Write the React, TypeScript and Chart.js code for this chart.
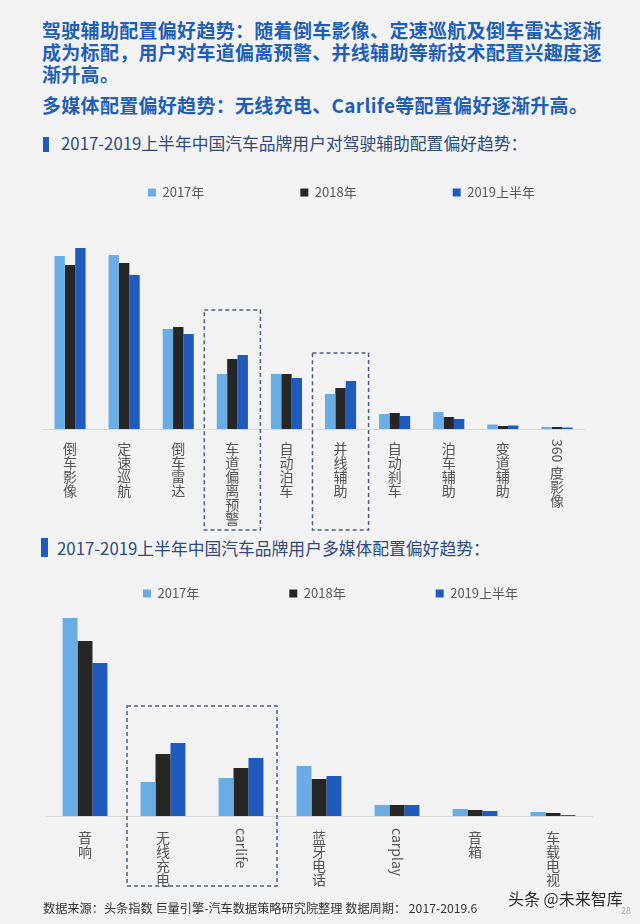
import React, { useEffect, useRef } from "react";
import { Chart, registerables } from "chart.js";

Chart.register(...registerables);

const FONT = '"Noto Sans CJK SC", "Noto Sans", sans-serif';

const seriesNames = ["2017年", "2018年", "2019上半年"];
const seriesColors = ["#6aade4", "#262626", "#1f5bbd"];

const assistCategories = ["倒车影像", "定速巡航", "倒车雷达", "车道偏离预警", "自动泊车", "并线辅助", "自动刹车", "泊车辅助", "变道辅助", "360度影像"];
const assist2017 = [173, 174, 100, 55, 55, 35, 15, 17, 4.5, 2];
const assist2018 = [164, 166, 102, 70, 55, 41, 16, 12, 3, 2];
const assist2019 = [181, 154, 95, 74, 51, 48, 13, 10, 3.5, 1.5];
const assistMax = 220;
const assistHighlights = [
  { from: 3, to: 3, top: 119 },
  { from: 5, to: 5, top: 76 },
];

const mediaCategories = ["音响", "无线充电", "carlife", "蓝牙电话", "carplay", "音箱", "车载电视"];
const media2017 = [198, 34, 38, 50, 11, 7, 4];
const media2018 = [175, 62, 48, 37, 11, 6, 3];
const media2019 = [153, 73, 58, 40, 11, 5, 1];
const mediaMax = 206;
const mediaHighlights = [{ from: 1, to: 2, top: 110 }];

const headerLines = [
  "驾驶辅助配置偏好趋势：随着倒车影像、定速巡航及倒车雷达逐渐",
  "成为标配，用户对车道偏离预警、并线辅助等新技术配置兴趣度逐",
  "渐升高。",
];
const headerLine2 = "多媒体配置偏好趋势：无线充电、Carlife等配置偏好逐渐升高。";
const title1 = "2017-2019上半年中国汽车品牌用户对驾驶辅助配置偏好趋势：";
const title2 = "2017-2019上半年中国汽车品牌用户多媒体配置偏好趋势：";
const footer = "数据来源：头条指数 巨量引擎-汽车数据策略研究院整理 数据周期： 2017-2019.6";

type Box = { from: number; to: number; top: number };
type PluginCfg = { offset: number; step: number; boxes: Box[]; boxBottom: number; inset: number };

function makeLabelPlugin(cfg: PluginCfg) {
  return {
    id: "verticalLabels",
    afterDraw(chart: any) {
      const { ctx, chartArea } = chart;
      const xs = chart.scales.x;
      const ys = chart.scales.y;
      const labels = chart.data.labels as string[];
      ctx.save();
      ctx.font = `14px ${FONT}`;
      ctx.fillStyle = "#555555";
      labels.forEach((lab, i) => {
        const cx = xs.getPixelForValue(i);
        let cy = chartArea.bottom + cfg.offset;
        const runs = lab.match(/[\x00-\x7f]+|[^\x00-\x7f]/g) || [];
        runs.forEach((run, k) => {
          if (/^[\x00-\x7f]+$/.test(run)) {
            const start = k === 0 ? cy - 3 : cy;
            ctx.save();
            ctx.translate(cx, start);
            ctx.rotate(Math.PI / 2);
            ctx.textAlign = "left";
            ctx.textBaseline = "middle";
            ctx.fillText(run, 0, 0);
            ctx.restore();
            cy = start + ctx.measureText(run).width + 3;
          } else {
            ctx.textAlign = "center";
            ctx.textBaseline = "top";
            ctx.fillText(run, cx, cy);
            cy += cfg.step;
          }
        });
      });
      const half = (xs.getPixelForValue(1) - xs.getPixelForValue(0)) / 2;
      ctx.setLineDash([4, 3]);
      ctx.lineWidth = 1.5;
      ctx.strokeStyle = "#4a5f85";
      cfg.boxes.forEach((b) => {
        const l = xs.getPixelForValue(b.from) - half + cfg.inset;
        const r = xs.getPixelForValue(b.to) + half - cfg.inset;
        const t = ys.getPixelForValue(b.top);
        const btm = chartArea.bottom + cfg.boxBottom;
        ctx.strokeRect(l, t, r - l, btm - t);
      });
      ctx.restore();
    },
  };
}

type ChartProps = {
  top: number;
  height: number;
  labels: string[];
  series: number[][];
  yMax: number;
  padLeft: number;
  padRight: number;
  padBottom: number;
  axisWidth: number;
  legendPad: number;
  plugin: PluginCfg;
};

function BarChart(p: ChartProps) {
  const ref = useRef<HTMLCanvasElement>(null);
  useEffect(() => {
    if (!ref.current) return;
    const chart = new Chart(ref.current, {
      type: "bar",
      data: {
        labels: p.labels,
        datasets: p.series.map((vals, i) => ({
          label: seriesNames[i],
          data: vals,
          backgroundColor: seriesColors[i],
          borderWidth: 0,
          categoryPercentage: 0.575,
          barPercentage: 1,
        })),
      },
      options: {
        responsive: false,
        animation: false,
        layout: { padding: { left: p.padLeft, right: p.padRight, top: 0, bottom: p.padBottom } },
        plugins: {
          legend: {
            position: "top",
            align: "center",
            labels: {
              boxWidth: 8,
              boxHeight: 8,
              padding: p.legendPad,
              color: "#595959",
              font: { size: 13, family: FONT },
            },
          },
          tooltip: { enabled: false },
        },
        scales: {
          x: {
            type: "category",
            offset: true,
            grid: { display: false, drawTicks: false },
            border: { display: true, color: "#d9d9d9", width: 1 },
            ticks: { display: false },
          },
          y: {
            position: "right",
            min: 0,
            max: p.yMax,
            grid: { display: false, drawTicks: false },
            border: { display: false },
            ticks: { display: false },
            afterFit: (s: any) => {
              s.width = p.axisWidth;
            },
          },
        },
      } as any,
      plugins: [makeLabelPlugin(p.plugin)],
    });
    return () => chart.destroy();
  }, []);
  return (
    <canvas
      ref={ref}
      width={640}
      height={p.height}
      style={{ position: "absolute", left: 0, top: p.top, width: 640, height: p.height, display: "block" }}
    />
  );
}

export default function App() {
  const headerStyle: React.CSSProperties = {
    position: "absolute",
    left: 42,
    whiteSpace: "nowrap",
    fontFamily: FONT,
    fontWeight: 700,
    fontSize: 19,
    lineHeight: "22px",
    color: "#1f5fb5",
    letterSpacing: 0.3,
  };
  const titleStyle: React.CSSProperties = {
    position: "absolute",
    whiteSpace: "nowrap",
    fontFamily: FONT,
    fontSize: 16.8,
    lineHeight: "20px",
    color: "#2e4b7a",
  };
  return (
    <div
      style={{
        position: "absolute",
        left: 0,
        top: 0,
        width: 640,
        height: 924,
        background: "#f2f2f2",
        overflow: "hidden",
        fontFamily: FONT,
      }}
    >
      {headerLines.map((t, i) => (
        <div key={i} style={{ ...headerStyle, top: 19 + i * 22 }}>
          {t}
        </div>
      ))}
      <div style={{ ...headerStyle, top: 94 }}>{headerLine2}</div>

      <div style={{ position: "absolute", left: 43, top: 137, width: 6, height: 15, background: "#1f5bbd" }} />
      <div style={{ ...titleStyle, left: 61, top: 133 }}>{title1}</div>

      <div style={{ position: "absolute", left: 41, top: 538, width: 7, height: 19, background: "#1f5bbd" }} />
      <div style={{ ...titleStyle, left: 57, top: 538 }}>{title2}</div>

      <BarChart
        top={90}
        height={450}
        labels={assistCategories}
        series={[assist2017, assist2018, assist2019]}
        yMax={assistMax}
        padLeft={43}
        padRight={0}
        padBottom={111}
        axisWidth={56}
        legendPad={96}
        plugin={{ offset: 13, step: 14, boxes: assistHighlights, boxBottom: 101, inset: -1 }}
      />
      <BarChart
        top={497}
        height={408}
        labels={mediaCategories}
        series={[media2017, media2018, media2019]}
        yMax={mediaMax}
        padLeft={46}
        padRight={25}
        padBottom={89}
        axisWidth={23}
        legendPad={90}
        plugin={{ offset: 15, step: 14, boxes: mediaHighlights, boxBottom: 70, inset: 3 }}
      />

      <div
        style={{
          position: "absolute",
          left: 43,
          top: 899,
          whiteSpace: "nowrap",
          fontSize: 12.2,
          lineHeight: "18px",
          color: "#333333",
        }}
      >
        {footer}
      </div>
      <div
        style={{
          position: "absolute",
          left: 508,
          top: 887,
          whiteSpace: "nowrap",
          fontSize: 16,
          lineHeight: "22px",
          color: "#2a2a2a",
          textShadow: "0 0 2px #ffffff, 0 0 2px #ffffff",
        }}
      >
        头条 @未来智库
      </div>
      <div style={{ position: "absolute", left: 621, top: 904, fontSize: 9, color: "#b0b0b0" }}>28</div>
    </div>
  );
}
